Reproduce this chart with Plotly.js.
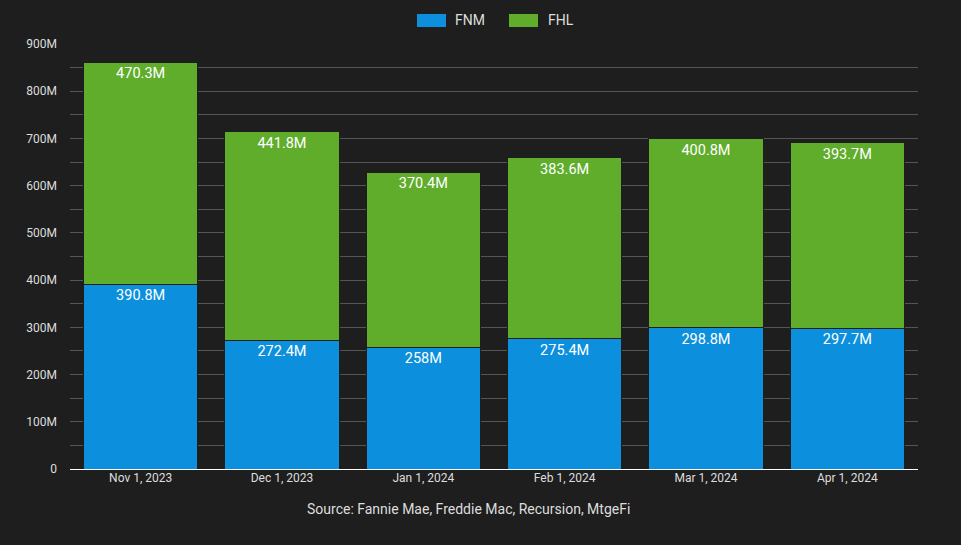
<!DOCTYPE html>
<html>
<head>
<meta charset="utf-8">
<script src="https://cdn.plot.ly/plotly-3.0.1.min.js"></script>
<style>html,body{margin:0;padding:0;background:#1e1e1e;}#chart{width:961px;height:545px;}</style>
</head>
<body>
<div id="chart"></div>
<script>
const categories = ["Nov 1, 2023", "Dec 1, 2023", "Jan 1, 2024", "Feb 1, 2024", "Mar 1, 2024", "Apr 1, 2024"];
const fnmMillions = [390.8, 272.4, 258, 275.4, 298.8, 297.7];
const fhlMillions = [470.3, 441.8, 370.4, 383.6, 400.8, 393.7];
const seriesNames = ["FNM", "FHL"];
const seriesColors = ["#0c8fdc", "#60ad2c"];
const sourceText = "Source: Fannie Mae, Freddie Mac, Recursion, MtgeFi";

const bg = "#1e1e1e";
const font = "Roboto, 'Open Sans', sans-serif";
function mk(name, vals, color) {
  return {
    type: "bar", name: name, x: categories,
    y: vals.map(v => v * 1e6),
    text: vals.map(v => v + "M"),
    textposition: "inside", insidetextanchor: "end",
    textfont: {color: "#ffffff", size: 14.5, family: font},
    marker: {color: color, line: {color: bg, width: 1}},
    hoverinfo: "skip"
  };
}
const data = [mk(seriesNames[0], fnmMillions, seriesColors[0]), mk(seriesNames[1], fhlMillions, seriesColors[1])];

// custom legend (wide swatches)
const legX = [[0.4092, 0.4434], [0.5177, 0.5519]];
const legTextX = [0.4517, 0.5613];
const shapes = [], annotations = [];
for (let i = 0; i < 2; i++) {
  shapes.push({type: "rect", xref: "paper", yref: "paper", x0: legX[i][0], x1: legX[i][1],
               y0: 1.040, y1: 1.0706, fillcolor: seriesColors[i], line: {width: 0}});
  annotations.push({text: seriesNames[i], xref: "paper", yref: "paper", x: legTextX[i], y: 1.0553,
                    xanchor: "left", yanchor: "middle", showarrow: false,
                    font: {size: 14, color: "#dddddd", family: font}});
}
annotations.push({text: sourceText, xref: "paper", yref: "paper", x: 0.47, y: -0.094,
                  xanchor: "center", yanchor: "middle", showarrow: false,
                  font: {size: 14, color: "#dddddd", family: font}});

const layout = {
  width: 961, height: 545,
  paper_bgcolor: bg, plot_bgcolor: bg,
  barmode: "stack", bargap: 0.19,
  margin: {l: 70, r: 43, t: 44, b: 76},
  font: {family: font, color: "#dddddd", size: 12},
  showlegend: false,
  xaxis: {type: "category", showgrid: false, ticks: "", tickfont: {size: 12, color: "#dddddd"},
          showline: false},
  yaxis: {range: [0, 900e6], dtick: 100e6, tickformat: "~s", showgrid: true, gridcolor: "#555555",
          gridwidth: 1, zeroline: true, zerolinecolor: "#ffffff", zerolinewidth: 1,
          tickfont: {size: 12, color: "#dddddd"}, ticks: "", ticklabelstandoff: 12,
          minor: {dtick: 50e6, showgrid: true, gridcolor: "#555555", gridwidth: 1}},
  shapes: shapes,
  annotations: annotations
};
Plotly.newPlot("chart", data, layout, {displayModeBar: false, staticPlot: true});
</script>
</body>
</html>
